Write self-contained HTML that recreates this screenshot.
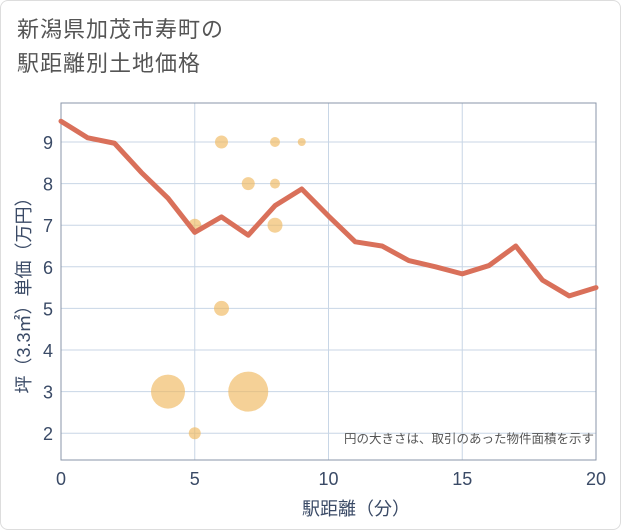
<!DOCTYPE html>
<html><head><meta charset="utf-8"><style>
body{margin:0;background:#fff;}
#card{position:relative;width:619px;height:528px;border:1px solid #ddd;border-radius:8px;background:#fff;font-family:"Liberation Sans","Noto Sans CJK JP",sans-serif;}
#title{position:absolute;left:16px;top:12px;font-size:22px;line-height:34px;color:#555;letter-spacing:1px;}
</style></head><body>
<div id="card">
<div id="title">新潟県加茂市寿町の<br>駅距離別土地価格</div>
<svg id="chart" width="621" height="530" style="position:absolute;left:-1px;top:-1px"></svg>
</div>
<script>
const xTicks=[0,5,10,15,20];
const yTicks=[2,3,4,5,6,7,8,9];
const lineX=[0,1,2,3,4,5,6,7,8,9,10,11,12,13,14,15,16,17,18,19,20];
const lineY=[9.5,9.1,8.97,8.27,7.65,6.83,7.2,6.76,7.47,7.87,7.22,6.6,6.5,6.15,6.0,5.83,6.03,6.5,5.68,5.3,5.5];
const bubX=[6,8,9,7,8,5,8,6,4,7,5];
const bubY=[9,9,9,8,8,7,7,5,3,3,2];
const bubR=[6.5,5,4,6.5,5,6.5,7.5,7.5,17,20,6];
const L=61,R=596,T=103,B=460;
const sx=v=>L+(v-0)/20*(R-L);
const sy=v=>142+(9-v)*41.6;
const svg=document.getElementById('chart');
const NS='http://www.w3.org/2000/svg';
function mk(t,a){const e=document.createElementNS(NS,t);for(const k in a)e.setAttribute(k,a[k]);svg.appendChild(e);return e;}
let e=mk('rect',{x:L,y:T,width:R-L,height:B-T,fill:'#fff',stroke:'none'});


yTicks.forEach(v=>{
 let g=mk('line',{x1:L,x2:R,y1:sy(v),y2:sy(v),stroke:'#c8d6e6','stroke-width':1});
 
 
 let t=mk('text',{x:L-8,y:sy(v)+7,'text-anchor':'end','font-size':18,fill:'#3a4a66'});
 t.textContent=v;
 
 
});
xTicks.forEach(v=>{
 let g=mk('line',{x1:sx(v),x2:sx(v),y1:T,y2:B,stroke:'#c8d6e6','stroke-width':1});
 
 
 let t=mk('text',{x:sx(v),y:B+25,'text-anchor':'middle','font-size':18,fill:'#3a4a66'});
 t.textContent=v;
 
 
});
e=mk('rect',{x:L,y:T,width:R-L,height:B-T,fill:'none',stroke:'#8a96a8','stroke-width':1});


bubX.forEach((x,i)=>{
 let c=mk('circle',{cx:sx(x),cy:sy(bubY[i]),r:bubR[i],fill:'#f0b860','fill-opacity':0.65});
 
 
});
let p=mk('polyline',{points:lineX.map((x,i)=>sx(x)+','+sy(lineY[i])).join(' '),fill:'none',stroke:'#d9705a','stroke-width':5,'stroke-linejoin':'round','stroke-linecap':'round'});


let n=mk('text',{x:594,y:443,'text-anchor':'end','font-size':12.5,fill:'#555'});
n.textContent='円の大きさは、取引のあった物件面積を示す';


let xt=mk('text',{x:356,y:515,'text-anchor':'middle','font-size':18,fill:'#3a4a66'});
xt.textContent='駅距離（分）';


let yt=mk('text',{x:0,y:0,'text-anchor':'middle','font-size':18,fill:'#3a4a66',transform:'translate(30,291) rotate(-90)'});
yt.textContent='坪（3.3㎡）単価（万円）';


</script>
</body></html>
